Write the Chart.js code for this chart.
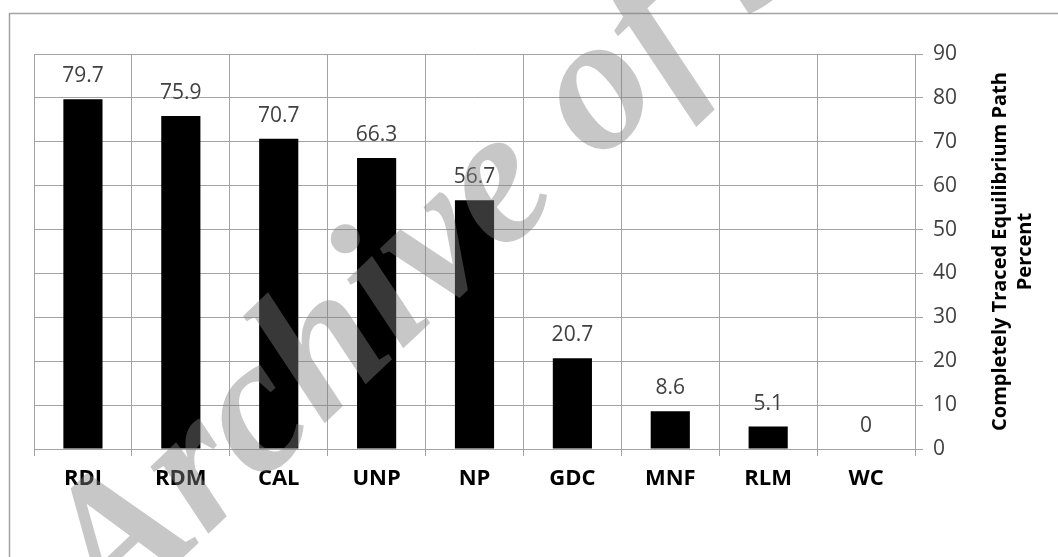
<!DOCTYPE html>
<html>
<head>
<meta charset="utf-8">
<script src="https://cdn.jsdelivr.net/npm/chart.js@4/dist/chart.umd.min.js"></script>
<style>
  html, body { margin: 0; padding: 0; background: #ffffff; }
  #wrap { width: 1058px; height: 557px; position: relative; }
</style>
</head>
<body>
<div id="wrap"><canvas id="chart" width="1058" height="557"></canvas></div>
<script>
// Solution methods and the share of paths each one traced completely
const categories = ['RDI', 'RDM', 'CAL', 'UNP', 'NP', 'GDC', 'MNF', 'RLM', 'WC'];
const percentTraced = [79.7, 75.9, 70.7, 66.3, 56.7, 20.7, 8.6, 5.1, 0];

// Right-hand value axis
const yMin = 0;
const yMax = 90;
const yStep = 10;
const axisTitleLines = ['Completely Traced Equilibrium Path', 'Percent'];

const watermarkText = 'Archive of SID';

const gridColor = '#a3a3a3';
const labelGrey = '#404040';
const baseFont = '"Open Sans", "Noto Sans", sans-serif';

// Thin frame around the whole figure (only top and left edges fall inside the canvas)
const framePlugin = {
  id: 'frame',
  beforeDraw(chart) {
    const ctx = chart.ctx;
    ctx.save();
    ctx.strokeStyle = gridColor;
    ctx.lineWidth = 1.5;
    ctx.beginPath();
    ctx.moveTo(9.5, chart.height + 5);
    ctx.lineTo(9.5, 13.5);
    ctx.lineTo(chart.width + 5, 13.5);
    ctx.stroke();
    ctx.restore();
  }
};

// Value printed above each bar
const valueLabelPlugin = {
  id: 'valueLabels',
  afterDatasetsDraw(chart) {
    const ctx = chart.ctx;
    const meta = chart.getDatasetMeta(0);
    const values = chart.data.datasets[0].data;
    ctx.save();
    ctx.font = '21px ' + baseFont;
    ctx.fillStyle = labelGrey;
    ctx.textAlign = 'center';
    ctx.textBaseline = 'alphabetic';
    meta.data.forEach((bar, i) => {
      ctx.fillText(String(values[i]), bar.x, bar.y - 17);
    });
    ctx.restore();
  }
};

// Axis title on the right, reading bottom to top
const sideTitlePlugin = {
  id: 'sideTitle',
  afterDraw(chart) {
    const ctx = chart.ctx;
    const area = chart.chartArea;
    const cy = (area.top + area.bottom) / 2;
    ctx.save();
    ctx.font = 'bold 20px ' + baseFont;
    ctx.fillStyle = '#000000';
    ctx.textAlign = 'center';
    ctx.textBaseline = 'middle';
    const xs = [1000, 1025];
    axisTitleLines.forEach((line, i) => {
      ctx.save();
      ctx.translate(xs[i], cy);
      ctx.rotate(-Math.PI / 2);
      ctx.fillText(line, 0, 0);
      ctx.restore();
    });
    ctx.restore();
  }
};

// Diagonal archive stamp across the figure
const watermarkPlugin = {
  id: 'watermark',
  afterDraw(chart) {
    const ctx = chart.ctx;
    ctx.save();
    ctx.font = 'italic bold 193px "Liberation Serif", "DejaVu Serif", serif';
    ctx.fillStyle = 'rgba(128, 128, 128, 0.44)';
    ctx.textAlign = 'left';
    ctx.textBaseline = 'alphabetic';
    ctx.translate(112, 625);
    ctx.rotate(-43.5 * Math.PI / 180);
    ctx.fillText(watermarkText, 0, 0);
    ctx.restore();
  }
};

new Chart(document.getElementById('chart'), {
  type: 'bar',
  data: {
    labels: categories,
    datasets: [{
      data: percentTraced,
      backgroundColor: '#000000',
      borderWidth: 0,
      barPercentage: 0.4,
      categoryPercentage: 1.0
    }]
  },
  options: {
    responsive: false,
    animation: false,
    devicePixelRatio: 1,
    layout: { padding: { left: 34, top: 54, right: 0, bottom: 0 } },
    plugins: {
      legend: { display: false },
      tooltip: { enabled: false },
      title: { display: false }
    },
    scales: {
      x: {
        position: 'bottom',
        grid: {
          display: true,
          offset: true,
          color: gridColor,
          lineWidth: 1,
          drawTicks: true,
          tickLength: 7
        },
        border: { display: true, color: gridColor, width: 1 },
        ticks: {
          color: '#000000',
          font: { family: baseFont, size: 22, weight: 'bold' },
          padding: 10,
          maxRotation: 0,
          autoSkip: false
        },
        afterFit(scale) { scale.height = 108; }
      },
      y: {
        position: 'right',
        min: yMin,
        max: yMax,
        grid: {
          color: gridColor,
          lineWidth: 1,
          drawTicks: true,
          tickLength: 8
        },
        border: { display: true, color: gridColor, width: 1 },
        ticks: {
          stepSize: yStep,
          color: labelGrey,
          font: { family: baseFont, size: 21 },
          padding: 10
        },
        afterFit(scale) { scale.width = 143; }
      }
    }
  },
  plugins: [framePlugin, valueLabelPlugin, sideTitlePlugin, watermarkPlugin]
});
</script>
</body>
</html>
